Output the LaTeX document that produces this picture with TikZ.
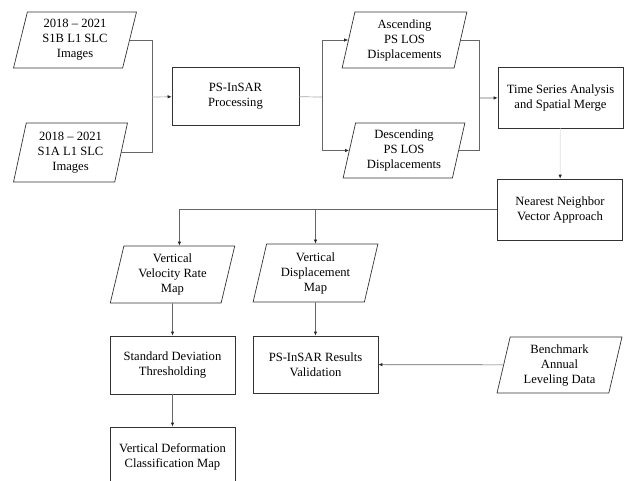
\documentclass[tikz,border=0pt]{standalone}
\usepackage{fontspec}
\setmainfont{Liberation Serif}
\usetikzlibrary{arrows.meta,shapes.geometric}

\begin{document}
\begin{tikzpicture}[x=1pt, y=-1pt,
	txt/.style={align=center, inner sep=0pt, font=\fontsize{12.6}{15}\selectfont},
	proc/.style={txt, draw=black!80, line width=0.7pt, rectangle, minimum width=125pt, minimum height=59pt},
	data/.style={txt, draw=black!80, line width=0.7pt, trapezium, trapezium left angle=77, trapezium right angle=103, trapezium stretches=true, minimum width=125pt, minimum height=56pt},
	link/.style={draw=black!60, line width=0.7pt},
	arr/.style={link, -{Latex[length=4pt, width=3.5pt, color=black!85]}}]
	\useasboundingbox (0,0) rectangle (624,480);
	\node (s1b) [data, minimum width=124pt] at (75,40) {2018 -- 2021\\S1B L1 SLC\\Images};
	\node (s1a) [data, minimum width=115pt, minimum height=59pt] at (70.5,152.5) {2018 -- 2021\\S1A L1 SLC\\Images};
	\node (ps) [proc, minimum width=127pt, minimum height=58pt] at (235.5,96) {PS-InSAR\\Processing};
	\node (asc) [data] at (404.5,40) {Ascending\\PS LOS\\Displacements};
	\node (desc) [data, minimum width=122pt, minimum height=55pt] at (404,150.5) {Descending\\PS LOS\\Displacements};
	\node (ts) [proc, minimum height=61pt] at (560.5,97.5) {Time Series Analysis\\and Spatial Merge};
	\node (nn) [proc, minimum height=61pt] at (560,209.5) {Nearest Neighbor\\Vector Approach};
	\node (vv) [data, minimum height=57pt] at (172.5,274.5) {Vertical\\Velocity Rate\\Map};
	\node (vd) [data, minimum height=58pt] at (315.5,273) {Vertical\\Displacement\\Map};
	\node (sd) [proc, minimum height=58pt] at (172.5,365) {Standard Deviation\\Thresholding};
	\node (pv) [proc, minimum height=57pt] at (315.5,364.5) {PS-InSAR Results\\Validation};
	\node (bm) [data] at (559.5,365) {Benchmark\\Annual\\Leveling Data};
	\node (vdc) [proc] at (172.5,456.5) {Vertical Deformation\\Classification Map};
	\coordinate (j1) at (152,97);
	\coordinate (j2) at (322,97);
	\coordinate (j3) at (479,98);

	\draw[link] (s1b.east) -| (j1);
	\draw[link] (s1a.east) -| (j1);
	\draw[arr, draw=black!35] (j1) -- (ps);
	\draw[link, draw=black!35] (ps) -- (j2);
	\draw[arr] (j2) |- (asc);
	\draw[arr] (j2) |- (desc);
	\draw[link] (asc.east) -| (j3);
	\draw[link] (desc.east) -| (j3);
	\draw[arr] (j3) -- (ts);
	\draw[arr, draw=black!12] (ts) -- (nn);
	\draw[arr] (nn.west) -| (vv.top side);
	\draw[arr] (nn.west) -| (vd.north);
	\draw[arr] (vv) -- (sd);
	\draw[arr] (vd) -- (pv);
	\draw[arr] (sd) -- (vdc);
	\draw[arr] (bm) -- (pv);
\end{tikzpicture}
\end{document}
